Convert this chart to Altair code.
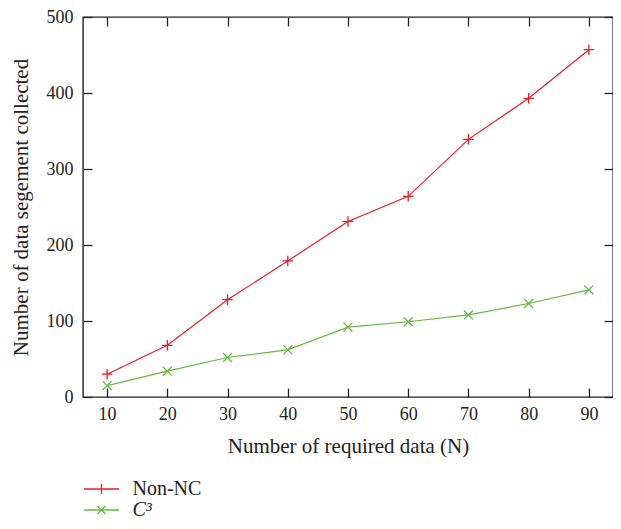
import altair as alt
import pandas as pd

n_values = [10, 20, 30, 40, 50, 60, 70, 80, 90]
non_nc = [30, 68, 128, 179, 231, 264, 339, 393, 457]
c3 = [15, 34, 52, 62, 92, 99, 108, 123, 141]
series_names = ["Non-NC", "C³"]
x_ticks = [10, 20, 30, 40, 50, 60, 70, 80, 90]
y_ticks = [0, 100, 200, 300, 400, 500]

rows = []
for n, v in zip(n_values, non_nc):
    rows.append({"N": n, "value": v, "series": series_names[0]})
for n, v in zip(n_values, c3):
    rows.append({"N": n, "value": v, "series": series_names[1]})
df = pd.DataFrame(rows)

W, H = 530, 380
FONT = "Liberation Serif"
RED = "#ec1c24"
GREEN = "#67b744"
PLUS = "M-1,0L1,0M0,-1L0,1"
CROSS = "M-1,-1L1,1M-1,1L1,-1"
LEG_PLUS = "M-1.75,0L1.75,0M0,-0.5L0,0.5"
LEG_CROSS = "M-1.75,0L1.75,0M-0.4,-0.4L0.4,0.4M-0.4,0.4L0.4,-0.4"

xs = alt.Scale(domain=[6, 94], nice=False, zero=False)
ys = alt.Scale(domain=[0, 500], nice=False)

base = alt.Chart(df)
x_main = alt.X("N:Q", scale=xs, axis=alt.Axis(values=x_ticks, title="Number of required data (N)",
                                              ticks=False, domain=False, grid=False, labelPadding=8,
                                              titlePadding=12))
y_main = alt.Y("value:Q", scale=ys, axis=alt.Axis(values=y_ticks, title="Number of data segement collected",
                                                  ticks=False, domain=False, grid=False, labelPadding=10,
                                                  titlePadding=15))
x_none = alt.X("N:Q", scale=xs, axis=None)
y_none = alt.Y("value:Q", scale=ys, axis=None)


def series_line(name, colour, sym, ly, main_axes, style):
    return base.transform_filter(alt.datum.series == name).mark_line(strokeWidth=1.2).encode(
        x=x_main if main_axes else x_none,
        y=y_main if main_axes else y_none,
        color=alt.Color("series:N", scale=alt.Scale(domain=[name], range=[colour]),
                        legend=alt.Legend(orient="none", legendX=0, legendY=ly, title=None,
                                          symbolType=sym, symbolSize=400, symbolOffset=7.5,
                                          symbolStrokeWidth=1.3, symbolFillColor="transparent",
                                          labelOffset=20, labelFontStyle=style)),
    )


def series_points(name, colour, shape, size):
    return base.transform_filter(alt.datum.series == name).mark_point(
        filled=False, size=size, strokeWidth=1.3, opacity=1, color=colour, shape=shape
    ).encode(x=x_none, y=y_none)


red_line = series_line(series_names[0], RED, LEG_PLUS, 461, True, "normal")
green_line = series_line(series_names[1], GREEN, LEG_CROSS, 482, False, "italic")
red_pts = series_points(series_names[0], RED, PLUS, 110)
green_pts = series_points(series_names[1], GREEN, CROSS, 80)

tick_axis = dict(labels=False, domain=False, grid=False, ticks=True, tickSize=9,
                 tickColor="#222", tickWidth=1.3, title=None)

ticks_a = base.mark_line(opacity=0).encode(
    x=alt.X("N:Q", scale=xs, axis=alt.Axis(values=x_ticks, orient="top", offset=-H, **tick_axis)),
    y=alt.Y("value:Q", scale=ys, axis=alt.Axis(values=y_ticks, orient="right", offset=-W, **tick_axis)),
    detail="series:N",
)
ticks_b = base.mark_line(opacity=0).encode(
    x=alt.X("N:Q", scale=xs, axis=alt.Axis(values=x_ticks, orient="bottom", offset=-H, **tick_axis)),
    y=alt.Y("value:Q", scale=ys, axis=alt.Axis(values=y_ticks, orient="left", offset=-W, **tick_axis)),
    detail="series:N",
)

chart = alt.layer(red_line, green_line, red_pts, green_pts, ticks_a, ticks_b).resolve_axis(
    x="independent", y="independent"
).resolve_scale(color="independent").properties(
    width=W, height=H,
    autosize=alt.AutoSizeParams(type="none"),
    padding={"left": 75, "top": 9, "right": 0, "bottom": 124},
).configure_view(
    stroke="#222", strokeWidth=1.4
).configure_axis(
    labelFont=FONT, titleFont=FONT, labelFontSize=18, titleFontSize=21,
    labelColor="#222", titleColor="#222", titleFontWeight="normal"
).configure_legend(
    labelFont=FONT, labelFontSize=20, labelColor="#222"
)

chart.save("out.html", embed_options={"renderer": "svg", "actions": False})
